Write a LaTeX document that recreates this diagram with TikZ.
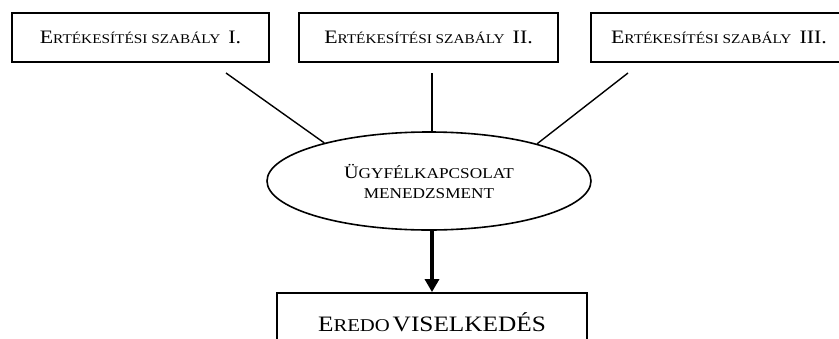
\documentclass[tikz,border=0pt]{standalone}
\usepackage{fontspec}
\setmainfont{Liberation Serif}
\usetikzlibrary{shapes.geometric,arrows.meta}

% fake small caps: a large initial, the rest as smaller capitals
\newcommand\capsz[1]{\fontsize{#1}{#1}\selectfont}
% slightly widened lettering
\newcommand\wide[1]{\scalebox{1.15}[1]{#1}}

\tikzset{
  x=1pt, y=-1pt,
  rulebox/.style={draw, line width=1.8pt, minimum width=#1, minimum height=49pt,
    inner sep=0pt, anchor=center},
  hub/.style={draw, ellipse, line width=1.6pt, minimum width=324pt,
    minimum height=98pt, inner sep=0pt, align=center},
  result/.style={draw, line width=1.8pt, minimum width=310pt, minimum height=58pt,
    inner sep=0pt},
  link/.style={line width=1.4pt},
  bigarrow/.style={line width=3.2pt, -{Triangle[width=14pt,length=13pt]}},
}

\begin{document}
\begin{tikzpicture}
\useasboundingbox (0,0) rectangle (839,338);
\clip (0,0) rectangle (839,338);

% the three rules
\node[rulebox=257pt] (r1) at (140.5,37.5)
  {\wide{{\capsz{19}E}{\capsz{13.3}RTÉKESÍTÉSI SZABÁLY}\hspace{7pt}{\capsz{19}I.}}};
\node[rulebox=259pt] (r2) at (428.5,37.5)
  {\wide{{\capsz{19}E}{\capsz{13.3}RTÉKESÍTÉSI SZABÁLY}\hspace{7pt}{\capsz{19}II.}}};
\node[rulebox=260pt] (r3) at (721,37.5)
  {\hspace{-4pt}\wide{{\capsz{19}E}{\capsz{13.3}RTÉKESÍTÉSI SZABÁLY}\hspace{7pt}{\capsz{19}III.}}\hspace{18pt}};

% customer relationship management
\node[hub] (crm) at (429,181)
  {\wide{{\capsz{17.5}Ü}{\capsz{15}GYFÉLKAPCSOLAT}}\\[8pt]\wide{\capsz{15}MENEDZSMENT}};

% resulting behaviour
\node[result] (res) at (432,322)
  {\wide{{\capsz{22}E}{\capsz{18}REDO} {\capsz{22}VISELKEDÉS}}};

% free upper ends of the links
\coordinate (s1) at (226,73);
\coordinate (s2) at (432,73);
\coordinate (s3) at (628,73);

\draw[link] (s1) -- (crm.160.9);
\draw[link] (s2) -- (s2 |- crm.north);
\draw[link] (s3) -- (crm.19.9);

\coordinate (a0) at (432,229);
\draw[bigarrow] (a0) -- (a0 |- res.north);
\end{tikzpicture}
\end{document}
